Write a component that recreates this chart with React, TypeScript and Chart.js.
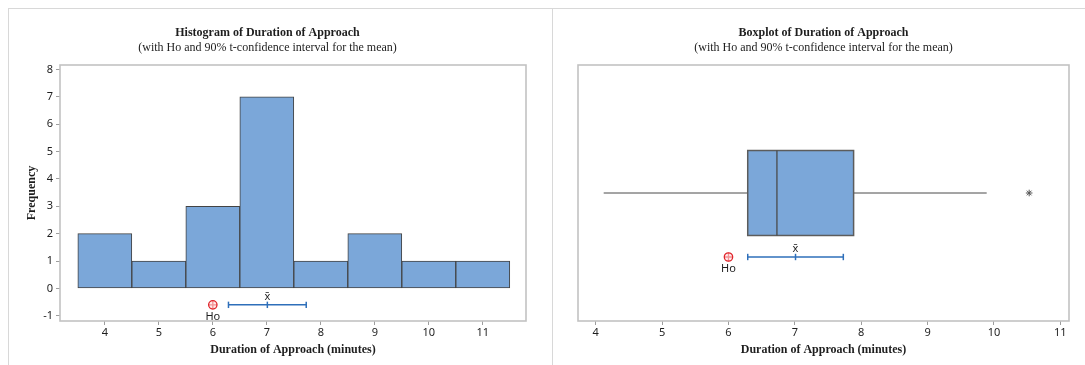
import { useEffect, useRef } from "react";
import { Chart, registerables } from "chart.js";

Chart.register(...registerables);

// Histogram bins (centre of each one-minute bin) and their counts
const binCenters = [4, 5, 6, 7, 8, 9, 10, 11];
const binCounts = [2, 1, 3, 7, 1, 2, 1, 1];

// Axis tick values
const histXTicks = [4, 5, 6, 7, 8, 9, 10, 11];
const histYTicks = [-1, 0, 1, 2, 3, 4, 5, 6, 7, 8];
const boxXTicks = [4, 5, 6, 7, 8, 9, 10, 11];

// Hypothesised mean and 90% t-confidence interval for the mean
const hypothesizedMean = 6;
const sampleMean = 7.01;
const ciBounds = [6.29, 7.73];

// Boxplot summary: lower whisker, Q1, median, Q3, upper whisker
const boxSummary = [4.12, 6.29, 6.73, 7.885, 9.89];
const boxOutliers = [10.53];

const SERIF = "'Liberation Serif', 'Times New Roman', serif";
const SANS = "'Noto Sans', 'Open Sans', 'DejaVu Sans', sans-serif";
const BAR_FILL = "#7ba7d9";
const BAR_EDGE = "#434343";
const FRAME = "#c2c2c2";
const TICK_MARK = "#9e9e9e";
const TEXT = "#1e1e1e";
const HO_RED = "#e0252b";
const CI_BLUE = "#2e6fba";
const PANEL_BORDER = "#d8d8d8";

const CANVAS_W = 543;
const CANVAS_H = 356;

const titleBlock = (title: string) => ({
  title: {
    display: true,
    text: title,
    color: TEXT,
    font: { family: SERIF, size: 12, weight: "bold" as const, lineHeight: 1.2 },
    padding: { top: 16.8, bottom: 0 },
  },
  subtitle: {
    display: true,
    text: "(with Ho and 90% t-confidence interval for the mean)",
    color: TEXT,
    font: { family: SERIF, size: 12, weight: "normal" as const, lineHeight: 1.2 },
    padding: { top: 0, bottom: 10.4 },
  },
  legend: { display: false },
  tooltip: { enabled: false },
});

const xAxis = (min: number, max: number, ticks: number[]) => ({
  type: "linear" as const,
  min,
  max,
  offset: false,
  afterBuildTicks: (s: any) => {
    s.ticks = ticks.map((v) => ({ value: v }));
  },
  afterFit: (s: any) => {
    s.height = 44;
  },
  ticks: {
    color: TEXT,
    font: { family: SANS, size: 11 },
    padding: 1,
    maxRotation: 0,
    autoSkip: false,
  },
  grid: {
    display: true,
    drawOnChartArea: false,
    drawTicks: true,
    tickLength: 4,
    color: TICK_MARK,
    offset: false,
  },
  border: { display: false },
  title: {
    display: true,
    text: "Duration of Approach (minutes)",
    color: TEXT,
    font: { family: SERIF, size: 12, weight: "bold" as const, lineHeight: 1.2 },
    padding: { top: 0, bottom: 7.8 },
  },
});

// Shared dataset builders for the Ho marker and the interval
const hoDatasets = (yVal: number) => [
  {
    type: "scatter" as const,
    data: [{ x: hypothesizedMean, y: yVal }],
    pointStyle: "circle",
    pointRadius: 4.2,
    pointBorderWidth: 1.3,
    pointBorderColor: HO_RED,
    pointBackgroundColor: "rgba(255,220,220,0.6)",
  },
  {
    type: "scatter" as const,
    data: [{ x: hypothesizedMean, y: yVal }],
    pointStyle: "cross",
    pointRadius: 4.2,
    pointBorderWidth: 1.3,
    pointBorderColor: HO_RED,
  },
];

const ciDataset = (yVal: number) => ({
  type: "scatter" as const,
  data: [
    { x: ciBounds[0], y: yVal },
    { x: sampleMean, y: yVal },
    { x: ciBounds[1], y: yVal },
  ],
  showLine: true,
  borderColor: CI_BLUE,
  borderWidth: 1.5,
  pointStyle: "line",
  rotation: 90,
  pointRadius: 3.2,
  pointBorderColor: CI_BLUE,
  pointBorderWidth: 1.5,
});

// Frame around the plot area plus the Ho / x-bar labels, and optionally the box
const makeDecor = (ciY: number, box?: { center: number; half: number }) => ({
  id: "decor",
  beforeDatasetsDraw(chart: any) {
    const { ctx, chartArea: a } = chart;
    ctx.save();
    ctx.strokeStyle = FRAME;
    ctx.lineWidth = 1.6;
    ctx.strokeRect(a.left, a.top, a.right - a.left, a.bottom - a.top);
    ctx.restore();
  },
  afterDatasetsDraw(chart: any) {
    const { ctx } = chart;
    const xs = chart.scales.x;
    const ys = chart.scales.y;
    ctx.save();
    if (box) {
      const [, q1, med, q3] = boxSummary;
      const top = ys.getPixelForValue(box.center + box.half);
      const bottom = ys.getPixelForValue(box.center - box.half);
      const left = xs.getPixelForValue(q1);
      const right = xs.getPixelForValue(q3);
      ctx.fillStyle = BAR_FILL;
      ctx.fillRect(left, top, right - left, bottom - top);
      ctx.strokeStyle = "#5c5c5c";
      ctx.lineWidth = 1.5;
      ctx.strokeRect(left, top, right - left, bottom - top);
      const mx = xs.getPixelForValue(med);
      ctx.beginPath();
      ctx.moveTo(mx, top);
      ctx.lineTo(mx, bottom);
      ctx.strokeStyle = "#4a4a4a";
      ctx.lineWidth = 1.3;
      ctx.stroke();
    }
    const py = ys.getPixelForValue(ciY);
    ctx.fillStyle = TEXT;
    ctx.textAlign = "center";
    ctx.textBaseline = "middle";
    ctx.font = `11px ${SANS}`;
    ctx.fillText("x\u0304", xs.getPixelForValue(sampleMean), py - 8);
    ctx.fillText("Ho", xs.getPixelForValue(hypothesizedMean), py + 12);
    ctx.restore();
  },
});

export default function App() {
  const histRef = useRef<HTMLCanvasElement | null>(null);
  const boxRef = useRef<HTMLCanvasElement | null>(null);

  useEffect(() => {
    if (!histRef.current || !boxRef.current) return;

    const histCiY = -0.6;
    const hist = new Chart(histRef.current, {
      type: "bar",
      data: {
        datasets: [
          {
            type: "bar",
            data: binCenters.map((c, i) => ({ x: c, y: binCounts[i] })),
            backgroundColor: BAR_FILL,
            borderColor: BAR_EDGE,
            borderWidth: 1,
            borderSkipped: false,
            barPercentage: 1,
            categoryPercentage: 1,
          } as any,
          ...hoDatasets(histCiY),
          ciDataset(histCiY),
        ] as any,
      },
      options: {
        responsive: false,
        animation: false,
        events: [],
        layout: { padding: { left: 0, right: 26, top: 0, bottom: 0 } },
        plugins: titleBlock("Histogram of Duration of Approach") as any,
        scales: {
          x: xAxis(3.17, 11.8, histXTicks) as any,
          y: {
            type: "linear",
            min: -1.19,
            max: 8.16,
            afterBuildTicks: (s: any) => {
              s.ticks = histYTicks.map((v) => ({ value: v }));
            },
            afterFit: (s: any) => {
              s.width = 51;
            },
            ticks: {
              color: TEXT,
              font: { family: SANS, size: 11 },
              padding: 3,
              autoSkip: false,
            },
            grid: {
              display: true,
              drawOnChartArea: false,
              drawTicks: true,
              tickLength: 4,
              color: TICK_MARK,
            },
            border: { display: false },
            title: {
              display: true,
              text: "Frequency",
              color: TEXT,
              font: { family: SERIF, size: 12, weight: "bold", lineHeight: 1.2 },
              padding: { top: 15.5, bottom: 0 },
            },
          },
        },
      },
      plugins: [makeDecor(histCiY)],
    });

    const rowY = 0.5;
    const boxCiY = 0.25;
    const box = new Chart(boxRef.current, {
      type: "scatter",
      data: {
        datasets: [
          {
            data: [
              { x: boxSummary[0], y: rowY },
              { x: boxSummary[1], y: rowY },
            ],
            showLine: true,
            borderColor: "#4a4a4a",
            borderWidth: 1,
            pointRadius: 0,
          },
          {
            data: [
              { x: boxSummary[3], y: rowY },
              { x: boxSummary[4], y: rowY },
            ],
            showLine: true,
            borderColor: "#4a4a4a",
            borderWidth: 1,
            pointRadius: 0,
          },
          {
            data: boxOutliers.map((v) => ({ x: v, y: rowY })),
            pointStyle: "star",
            pointRadius: 3.3,
            pointBorderWidth: 1,
            pointBorderColor: "#555555",
          },
          ...hoDatasets(boxCiY),
          ciDataset(boxCiY),
        ] as any,
      },
      options: {
        responsive: false,
        animation: false,
        events: [],
        layout: { padding: { left: 25, right: 27, top: 0, bottom: 0 } },
        plugins: titleBlock("Boxplot of Duration of Approach") as any,
        scales: {
          x: xAxis(3.733, 11.13, boxXTicks) as any,
          y: { type: "linear", min: 0, max: 1, display: false },
        },
      },
      plugins: [makeDecor(boxCiY, { center: rowY, half: 0.166 })],
    });

    return () => {
      hist.destroy();
      box.destroy();
    };
  }, []);

  return (
    <div
      style={{
        position: "fixed",
        left: 8,
        top: 8,
        width: 1077,
        height: 357,
        overflow: "hidden",
        background: "#ffffff",
      }}
    >
      <div
        style={{
          position: "absolute",
          left: 0,
          top: 0,
          width: CANVAS_W + 2,
          height: CANVAS_H + 1,
          boxSizing: "border-box",
          borderTop: `1px solid ${PANEL_BORDER}`,
          borderLeft: `1px solid ${PANEL_BORDER}`,
          borderRight: `1px solid ${PANEL_BORDER}`,
        }}
      >
        <canvas ref={histRef} width={CANVAS_W} height={CANVAS_H} style={{ display: "block" }} />
      </div>
      <div
        style={{
          position: "absolute",
          left: CANVAS_W + 2,
          top: 0,
          width: CANVAS_W,
          height: CANVAS_H + 1,
          boxSizing: "border-box",
          borderTop: `1px solid ${PANEL_BORDER}`,
          overflow: "hidden",
        }}
      >
        <canvas ref={boxRef} width={CANVAS_W} height={CANVAS_H} style={{ display: "block" }} />
      </div>
    </div>
  );
}
